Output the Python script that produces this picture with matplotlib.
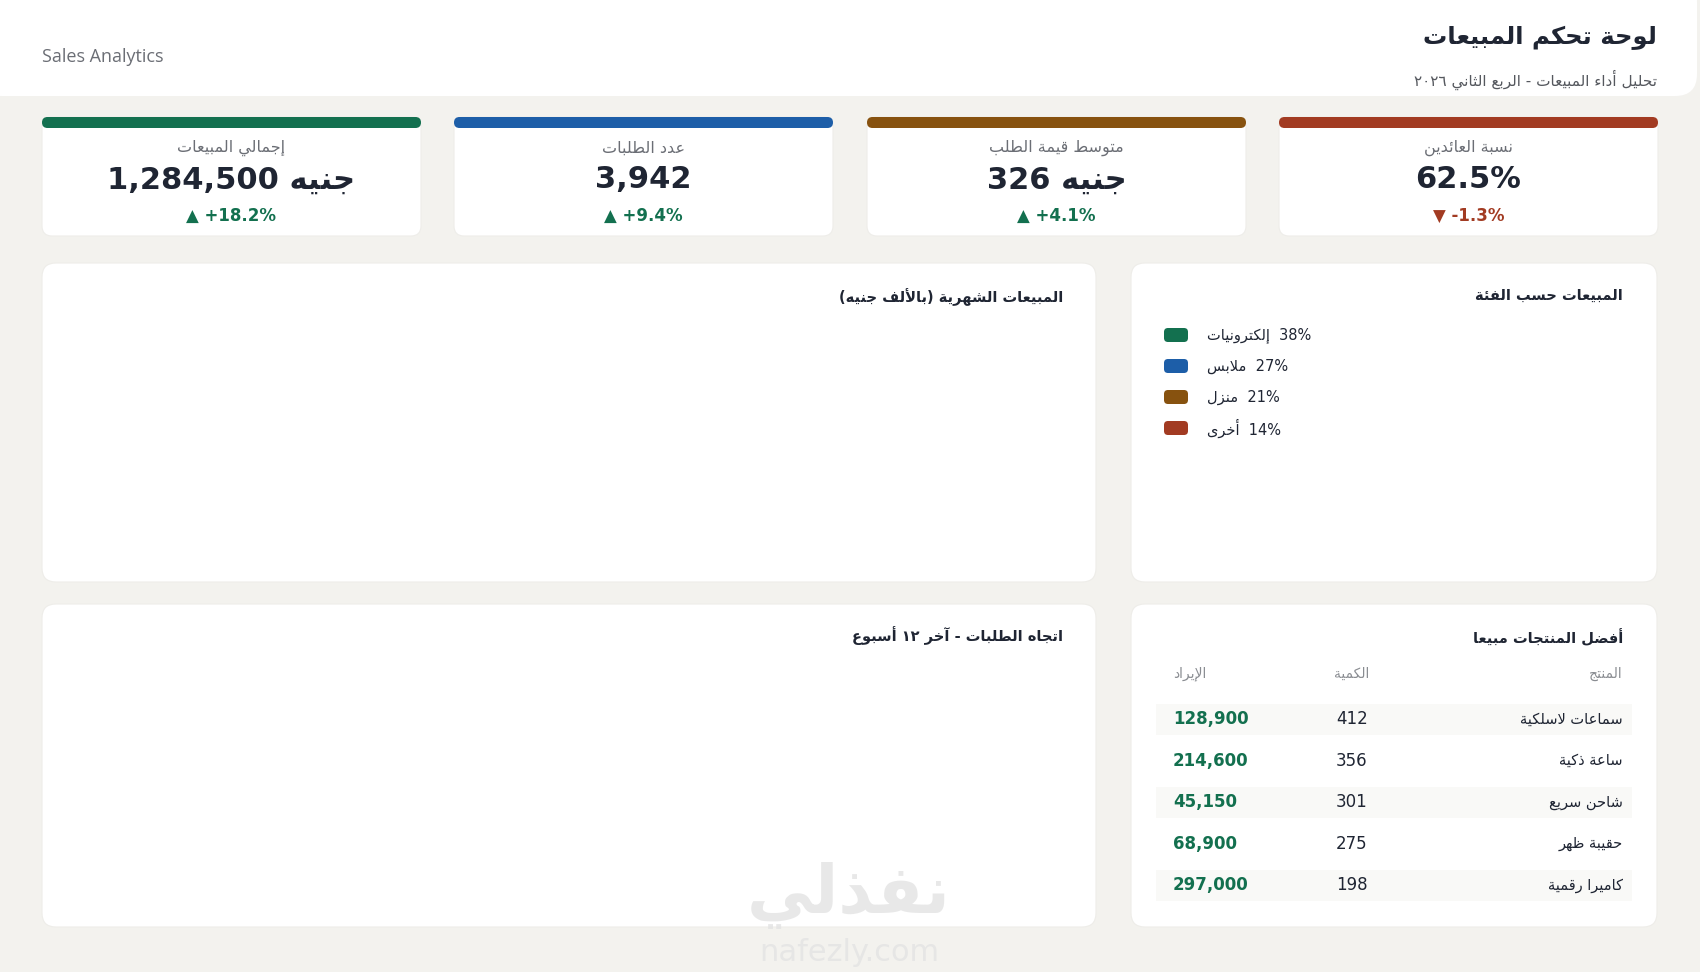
import re
import matplotlib
matplotlib.use("Agg")
import matplotlib.pyplot as plt
from matplotlib.patches import FancyBboxPatch

# ---- data ----
kpi_labels = ['إجمالي المبيعات', 'عدد الطلبات', 'متوسط قيمة الطلب', 'نسبة العائدين']
kpi_values = ['1,284,500', '3,942', '326', '62.5%']
kpi_currency = [True, False, True, False]
kpi_changes = [18.2, 9.4, 4.1, -1.3]
kpi_colors = ['#13704f', '#1d5ea8', '#87520f', '#a23b22']

categories = ['إلكترونيات', 'ملابس', 'منزل', 'أخرى']
category_share = [38, 27, 21, 14]

products = ['سماعات لاسلكية', 'ساعة ذكية', 'شاحن سريع', 'حقيبة ظهر', 'كاميرا رقمية']
quantities = [412, 356, 301, 275, 198]
revenues = [128900, 214600, 45150, 68900, 297000]

title = 'لوحة تحكم المبيعات'
subtitle = 'تحليل أداء المبيعات - الربع الثاني ٢٠٢٦'
currency = 'جنيه'

# ---- simple arabic shaping (matplotlib has no text shaping) ----
DUAL = {'ئ': 0xFE89, 'ب': 0xFE8F, 'ت': 0xFE95, 'ث': 0xFE99, 'ج': 0xFE9D, 'ح': 0xFEA1,
        'خ': 0xFEA5, 'س': 0xFEB1, 'ش': 0xFEB5, 'ص': 0xFEB9, 'ض': 0xFEBD, 'ط': 0xFEC1,
        'ظ': 0xFEC5, 'ع': 0xFEC9, 'غ': 0xFECD, 'ف': 0xFED1, 'ق': 0xFED5, 'ك': 0xFED9,
        'ل': 0xFEDD, 'م': 0xFEE1, 'ن': 0xFEE5, 'ه': 0xFEE9, 'ي': 0xFEF1}
RIGHT = {'آ': 0xFE81, 'أ': 0xFE83, 'ؤ': 0xFE85, 'إ': 0xFE87, 'ا': 0xFE8D, 'ة': 0xFE93,
         'د': 0xFEA9, 'ذ': 0xFEAB, 'ر': 0xFEAD, 'ز': 0xFEAF, 'و': 0xFEED, 'ى': 0xFEEF}
LAM_ALEF = {'آ': 0xFEF5, 'أ': 0xFEF7, 'إ': 0xFEF9, 'ا': 0xFEFB}


def shape(s):
    toks = []
    i = 0
    while i < len(s):
        if s[i] == 'ل' and i + 1 < len(s) and s[i + 1] in LAM_ALEF:
            toks.append(('LA', s[i + 1]))
            i += 2
            continue
        toks.append(('C', s[i]))
        i += 1

    def joins_left(t):
        return t[0] == 'C' and t[1] in DUAL

    def joins_right(t):
        return t[0] == 'LA' or t[1] in DUAL or t[1] in RIGHT

    out = []
    for k, t in enumerate(toks):
        prev = k > 0 and joins_left(toks[k - 1])
        nxt = k + 1 < len(toks) and joins_right(toks[k + 1])
        if t[0] == 'LA':
            out.append(chr(LAM_ALEF[t[1]] + (1 if prev else 0)))
        elif t[1] in DUAL:
            b = DUAL[t[1]]
            if prev and nxt:
                out.append(chr(b + 3))
            elif nxt:
                out.append(chr(b + 2))
            elif prev:
                out.append(chr(b + 1))
            else:
                out.append(chr(b))
        elif t[1] in RIGHT:
            out.append(chr(RIGHT[t[1]] + (1 if prev else 0)))
        elif t[1] == 'ء':
            out.append('\uFE80')
        else:
            out.append(t[1])
    return ''.join(out)


def ar(s):
    s = shape(s)
    toks = re.findall(r'[0-9\u0660-\u0669][0-9\u0660-\u0669.,%]*|.', s)
    return ''.join(reversed(toks)).translate(str.maketrans('()', ')('))


# ---- figure, 1 data unit = 1 pixel ----
plt.rcParams['font.family'] = ['DejaVu Sans']
fig = plt.figure(figsize=(17, 9.72), dpi=100)
fig.patch.set_facecolor('#f3f2ee')
ax = fig.add_axes([0, 0, 1, 1])
ax.set_xlim(0, 1700)
ax.set_ylim(972, 0)
ax.axis('off')

DARK = '#1f2533'
GRAY = '#6b6e75'


def card(x, y, w, h, r=12, color='white', z=1, ec='none'):
    ax.add_patch(FancyBboxPatch((x, y), w, h, boxstyle='round,pad=0,rounding_size=%s' % r,
                                fc=color, ec=ec, lw=0.8, zorder=z))


# header
card(-20, -20, 1717, 116, r=22)
ax.text(42, 57, 'Sales Analytics', fontsize=13, color=GRAY, va='center', ha='left',
        family=['Open Sans', 'DejaVu Sans'])
ax.text(1657, 38, ar(title), fontsize=17.5, fontweight='bold', color=DARK, ha='right', va='center')
ax.text(1657, 80, ar(subtitle), fontsize=11, color='#55585e', ha='right', va='center')

# KPI cards
card_x = [42, 454, 867, 1279]
for i in range(len(kpi_labels)):
    x0 = card_x[i]
    w = 379
    card(x0, 117, w, 119, r=10, ec='#eeede9')
    card(x0, 117, w, 11, r=5.5, color=kpi_colors[i], z=2)
    cx = x0 + w / 2
    ax.text(cx, 148, ar(kpi_labels[i]), fontsize=11.5, color=GRAY, ha='center', va='center', zorder=3)
    val = kpi_values[i] + (' ' + ar(currency) if kpi_currency[i] else '')
    ax.text(cx, 180, val, fontsize=22, fontweight='bold', color=DARK, ha='center', va='center', zorder=3)
    ch = kpi_changes[i]
    up = ch >= 0
    txt = ('▲ +%.1f%%' % ch) if up else ('▼ %.1f%%' % ch)
    ax.text(cx, 216, txt, fontsize=12, fontweight='bold', color='#13704f' if up else '#a23b22',
            ha='center', va='center', zorder=3)

# panels
card(42, 263, 1054, 319, r=14, ec='#eeede9')
card(1131, 263, 526, 319, r=14, ec='#eeede9')
card(42, 604, 1054, 323, r=14, ec='#eeede9')
card(1131, 604, 526, 323, r=14, ec='#eeede9')

ax.text(1063, 297, ar('المبيعات الشهرية (بالألف جنيه)'), fontsize=10.5, fontweight='bold',
        color=DARK, ha='right', va='center', zorder=3)
ax.text(1623, 295, ar('المبيعات حسب الفئة'), fontsize=10.5, fontweight='bold',
        color=DARK, ha='right', va='center', zorder=3)
ax.text(1063, 636, ar('اتجاه الطلبات - آخر ١٢ أسبوع'), fontsize=10.5, fontweight='bold',
        color=DARK, ha='right', va='center', zorder=3)
ax.text(1623, 637, ar('أفضل المنتجات مبيعا'), fontsize=10.5, fontweight='bold',
        color=DARK, ha='right', va='center', zorder=3)

# category legend
for i, (c, s) in enumerate(zip(categories, category_share)):
    y = 335 + i * 31
    card(1164, y - 7, 24, 14, r=4, color=kpi_colors[i], z=3)
    ax.text(1207, y, ar(c) + '  %d%%' % s, fontsize=10.5, color=DARK, ha='left', va='center', zorder=3)

# top products table
ax.text(1623, 674, ar('المنتج'), fontsize=10, color='#8a8d92', ha='right', va='center', zorder=3)
ax.text(1352, 674, ar('الكمية'), fontsize=10, color='#8a8d92', ha='center', va='center', zorder=3)
ax.text(1173, 674, ar('الإيراد'), fontsize=10, color='#8a8d92', ha='left', va='center', zorder=3)
for i in range(len(products)):
    y = 719 + i * 41.6
    if i % 2 == 0:
        ax.add_patch(plt.Rectangle((1156, y - 15.5), 476, 31, fc='#f9f9f7', ec='none', zorder=2))
    ax.text(1623, y, ar(products[i]), fontsize=10.5, color=DARK, ha='right', va='center', zorder=3)
    ax.text(1352, y, str(quantities[i]), fontsize=12, color=DARK, ha='center', va='center', zorder=3)
    ax.text(1173, y, '{:,}'.format(revenues[i]), fontsize=12, fontweight='bold', color='#13704f',
            ha='left', va='center', zorder=3)

# watermark
ax.text(849, 895, ar('نفذلي'), fontsize=48, fontweight='bold', color='#e3e3e3', alpha=0.8,
        ha='center', va='center', zorder=5)
ax.text(849, 952, 'nafezly.com', fontsize=22, color='#e3e3e3', alpha=0.8,
        ha='center', va='center', zorder=5)

fig.savefig('out.png', dpi=100, facecolor=fig.get_facecolor())
